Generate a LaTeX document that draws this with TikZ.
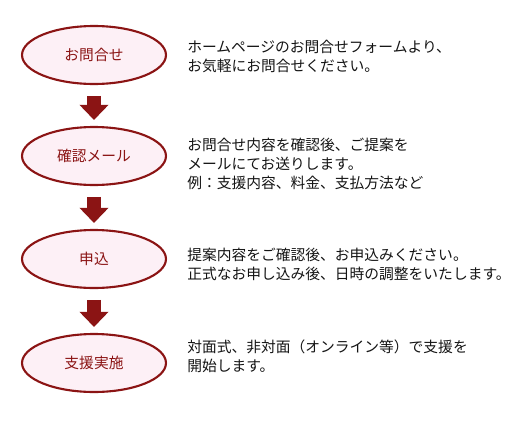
\documentclass[tikz,border=0pt]{standalone}
\usepackage{fontspec}
\setmainfont{Noto Sans CJK JP}
\usepackage{tikz}
\usetikzlibrary{arrows.meta, positioning, shapes.geometric}
\definecolor{cmaroon}{HTML}{8B1414}
\definecolor{lightpink}{HTML}{FDF0F6}
\definecolor{ctext}{HTML}{141414}

\begin{document}
\begin{tikzpicture}[x=0.02cm, y=-0.02cm,
  stepnode/.style={draw=cmaroon, fill=lightpink, ellipse, line width=1.2pt, minimum width=2.88cm, minimum height=1.16cm, inner sep=0pt, text=cmaroon, font=\fontsize{8.4pt}{10pt}\selectfont},
  desc/.style={anchor=west, align=left, inner sep=0pt, text=ctext, font=\fontsize{8.4pt}{10.8pt}\selectfont},
  flow/.style={draw=cmaroon, line width=7.8pt, -{Triangle[width=16pt, length=8.6pt]}, shorten <=6.2pt, shorten >=3.4pt}
]
  \useasboundingbox (0,0) rectangle (520,443);

  % Steps
  \node[stepnode] (inq) at (94, 55) {お問合せ};
  \node[stepnode] (mail) at (94, 156) {確認メール};
  \node[stepnode] (apply) at (94, 259) {申込};
  \node[stepnode] (start) at (94, 363) {支援実施};

  % Arrows
  \draw[flow] (inq) -- (mail);
  \draw[flow] (mail) -- (apply);
  \draw[flow] (apply) -- (start);

  % Descriptions
  \node[desc] (inqtext) at (187, 56)
    {ホームページのお問合せフォームより、\\お気軽にお問合せください。};
  \node[desc] (mailtext) at (187, 164)
    {お問合せ内容を確認後、ご提案を\\メールにてお送りします。\\例：支援内容、料金、支払方法など};
  \node[desc] (applytext) at (187, 264)
    {提案内容をご確認後、お申込みください。\\正式なお申し込み後、日時の調整をいたします。};
  \node[desc] (starttext) at (187, 356)
    {対面式、非対面（オンライン等）で支援を\\開始します。};

\end{tikzpicture}
\end{document}
